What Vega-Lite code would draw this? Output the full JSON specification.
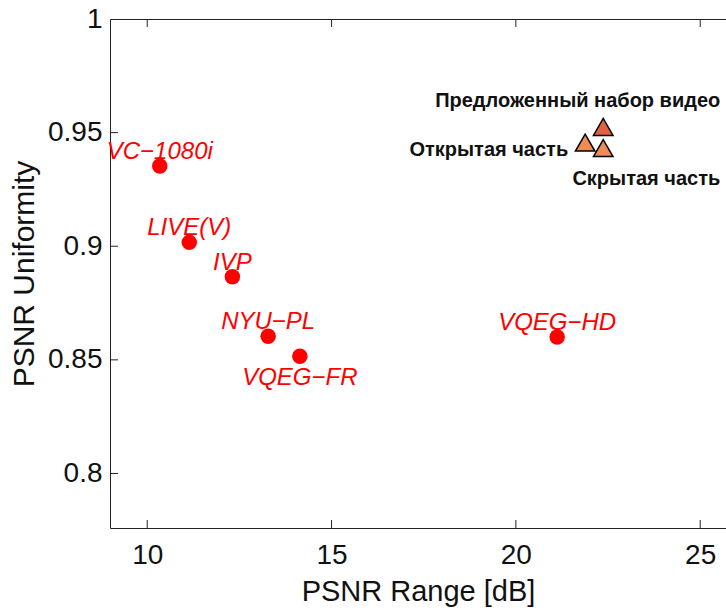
{
  "$schema": "https://vega.github.io/schema/vega-lite/v6.json",
  "width": 616,
  "height": 509,
  "autosize": {"type": "none"},
  "padding": {"left": 110, "top": 19, "right": 0, "bottom": 82},
  "background": "white",
  "config": {
    "font": "Liberation Sans",
    "view": {"stroke": "#222", "strokeWidth": 1}
  },
  "datasets": {
    "sets": [
      {"name": "VC−1080i", "psnr_range": 10.34, "uniformity": 0.9353},
      {"name": "LIVE(V)", "psnr_range": 11.14, "uniformity": 0.9017},
      {"name": "IVP", "psnr_range": 12.31, "uniformity": 0.8866},
      {"name": "NYU−PL", "psnr_range": 13.28, "uniformity": 0.8604},
      {"name": "VQEG−FR", "psnr_range": 14.14, "uniformity": 0.8516},
      {"name": "VQEG−HD", "psnr_range": 21.12, "uniformity": 0.8601}
    ],
    "proposed": [
      {"name": "Предложенный набор видео", "psnr_range": 22.37, "uniformity": 0.9525},
      {"name": "Открытая часть", "psnr_range": 21.88, "uniformity": 0.9456},
      {"name": "Скрытая часть", "psnr_range": 22.37, "uniformity": 0.9432}
    ],
    "xticks": [{"tick": 10}, {"tick": 15}, {"tick": 20}, {"tick": 25}],
    "yticks": [{"tick": 0.8}, {"tick": 0.85}, {"tick": 0.9}, {"tick": 0.95}]
  },
  "layer": [
    {
      "data": {"name": "xticks"},
      "mark": {"type": "rule", "color": "#222", "strokeWidth": 1},
      "encoding": {
        "x": {"field": "tick", "type": "quantitative", "axis": null},
        "y": {"datum": 0.776, "type": "quantitative", "axis": null},
        "y2": {"datum": 0.7795}
      }
    },
    {
      "data": {"name": "xticks"},
      "mark": {"type": "rule", "color": "#222", "strokeWidth": 1},
      "encoding": {
        "x": {"field": "tick", "type": "quantitative", "axis": null},
        "y": {"datum": 1, "type": "quantitative", "axis": null},
        "y2": {"datum": 0.9965}
      }
    },
    {
      "data": {"name": "yticks"},
      "mark": {"type": "rule", "color": "#222", "strokeWidth": 1},
      "encoding": {
        "y": {"field": "tick", "type": "quantitative", "axis": null},
        "x": {"datum": 8.99, "type": "quantitative", "axis": null},
        "x2": {"datum": 9.207}
      }
    },
    {
      "data": {"name": "sets"},
      "mark": {"type": "circle", "size": 240, "color": "#ff0000", "opacity": 1},
      "encoding": {
        "x": {
          "field": "psnr_range", "type": "quantitative",
          "scale": {"domain": [8.99, 25.7], "nice": false, "zero": false},
          "axis": {
            "orient": "bottom", "title": "PSNR Range [dB]", "values": [10, 15, 20, 25],
            "grid": false, "domain": false, "offset": -8, "ticks": false, "labelPadding": 21, "labelFontSize": 28,
            "labelColor": "#111", "titleColor": "#111", "titleFontSize": 29, "titleFontWeight": "normal",
            "titlePadding": 8
          }
        },
        "y": {
          "field": "uniformity", "type": "quantitative",
          "scale": {"domain": [0.776, 1], "nice": false, "zero": false},
          "axis": {
            "orient": "left", "title": "PSNR Uniformity", "values": [0.8, 0.85, 0.9, 0.95, 1], "format": "~g",
            "grid": false, "domain": false, "offset": -8, "ticks": false, "labelPadding": 16, "labelFontSize": 28,
            "labelColor": "#111", "titleColor": "#111", "titleFontSize": 30, "titleFontWeight": "normal",
            "titlePadding": 8
          }
        }
      }
    },
    {
      "data": {"name": "sets"},
      "transform": [{"filter": "datum.name !== 'VQEG−FR'"}],
      "mark": {"type": "text", "dy": -14, "align": "center", "baseline": "middle", "fontStyle": "italic", "fontSize": 24, "color": "#ff0000"},
      "encoding": {
        "x": {"field": "psnr_range", "type": "quantitative", "axis": null},
        "y": {"field": "uniformity", "type": "quantitative", "axis": null},
        "text": {"field": "name"}
      }
    },
    {
      "data": {"name": "sets"},
      "transform": [{"filter": "datum.name === 'VQEG−FR'"}],
      "mark": {"type": "text", "dy": 22, "align": "center", "baseline": "middle", "fontStyle": "italic", "fontSize": 24, "color": "#ff0000"},
      "encoding": {
        "x": {"field": "psnr_range", "type": "quantitative", "axis": null},
        "y": {"field": "uniformity", "type": "quantitative", "axis": null},
        "text": {"field": "name"}
      }
    },
    {
      "data": {"name": "proposed"},
      "mark": {"type": "point", "shape": "triangle-up", "size": 380, "filled": true, "opacity": 1, "stroke": "#000", "strokeWidth": 1.5},
      "encoding": {
        "x": {"field": "psnr_range", "type": "quantitative", "axis": null},
        "y": {"field": "uniformity", "type": "quantitative", "axis": null},
        "fill": {
          "field": "name", "type": "nominal", "legend": null,
          "scale": {"domain": ["Предложенный набор видео", "Открытая часть", "Скрытая часть"], "range": ["#dd6344", "#ef8b55", "#ef8b55"]}
        }
      }
    },
    {
      "data": {"name": "proposed"},
      "transform": [{"filter": "datum.name === 'Предложенный набор видео'"}],
      "mark": {"type": "text", "dx": 117, "dy": -26, "align": "right", "baseline": "middle", "fontWeight": "bold", "fontSize": 20, "color": "#111"},
      "encoding": {
        "x": {"field": "psnr_range", "type": "quantitative", "axis": null},
        "y": {"field": "uniformity", "type": "quantitative", "axis": null},
        "text": {"field": "name"}
      }
    },
    {
      "data": {"name": "proposed"},
      "transform": [{"filter": "datum.name === 'Открытая часть'"}],
      "mark": {"type": "text", "dx": -17, "dy": 7, "align": "right", "baseline": "middle", "fontWeight": "bold", "fontSize": 20, "color": "#111"},
      "encoding": {
        "x": {"field": "psnr_range", "type": "quantitative", "axis": null},
        "y": {"field": "uniformity", "type": "quantitative", "axis": null},
        "text": {"field": "name"}
      }
    },
    {
      "data": {"name": "proposed"},
      "transform": [{"filter": "datum.name === 'Скрытая часть'"}],
      "mark": {"type": "text", "dx": 117, "dy": 31, "align": "right", "baseline": "middle", "fontWeight": "bold", "fontSize": 20, "color": "#111"},
      "encoding": {
        "x": {"field": "psnr_range", "type": "quantitative", "axis": null},
        "y": {"field": "uniformity", "type": "quantitative", "axis": null},
        "text": {"field": "name"}
      }
    }
  ],
  "resolve": {"axis": {"x": "independent", "y": "independent"}}
}
